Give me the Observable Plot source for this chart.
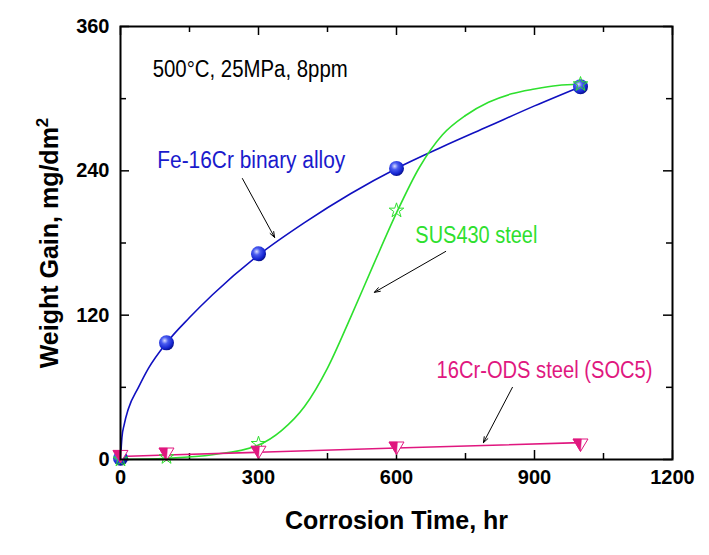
<!DOCTYPE html>
<html><head><meta charset="utf-8">
<script src="https://cdn.jsdelivr.net/npm/d3@7"></script>
<script src="https://cdn.jsdelivr.net/npm/@observablehq/plot@0.6"></script>
<style>body{margin:0;background:#fff}</style>
</head><body><div id="chart"></div>
<script>
// ---- data ----
const feCurveT = [0, 3, 8, 17, 39, 61, 100, 150, 200, 300, 400, 500, 600, 700, 800, 900, 1000];
const feCurveV = [0, 18, 29, 42, 60, 76, 97, 118, 137, 170, 197, 221, 242, 260, 277, 294, 310];
const fePointT = [0, 100, 300, 600, 1000];
const fePointV = [1, 97, 171, 242, 310];

const susCurveT = [0, 100, 200, 300, 350, 400, 450, 500, 550, 600, 650, 700, 750, 800, 850, 900, 950, 1000];
const susCurveV = [0, 1, 4, 12, 24, 44, 76, 118, 162, 205, 243, 270, 286, 297, 304, 308, 311, 312];
const susPointT = [0, 100, 300, 600, 1000];
const susPointV = [0, 2, 13, 207, 312];

const odsCurveT = [0, 100, 300, 600, 1000];
const odsCurveV = [2.5, 3.7, 6, 9.6, 14];
const odsPointT = [0, 100, 300, 600, 1000];
const odsPointV = [3, 5, 6.5, 10, 12.5];

const xMajor = [0, 300, 600, 900, 1200];
const xMinor = [150, 450, 750, 1050];
const yMajor = [0, 120, 240, 360];
const yMinor = [60, 180, 300];

const labelText = ["500°C, 25MPa, 8ppm", "Fe-16Cr binary alloy", "SUS430 steel", "16Cr-ODS steel (SOC5)"];
const labelT = [70, 80, 641, 687];
const labelV = [317.6, 242, 179.6, 68];

const arrowT1 = [265, 707, 852];
const arrowV1 = [233.6, 173, 60];
const arrowT2 = [335, 552, 789];
const arrowV2 = [184.6, 139, 14];

const xLabel = "Corrosion Time, hr";
const yLabelMain = "Weight Gain, mg/dm";
const yLabelSup = "2";

// ---- styles ----
const labelColor = ["#000000", "#1a1acc", "#2ee02e", "#e0177f"];
const labelWidth = [195, 188, 122, 216];

// ---- build ----
const zip = (T, V) => T.map((t, i) => ({t, v: V[i]}));
const fe = zip(feCurveT, feCurveV), feP = zip(fePointT, fePointV);
const sus = zip(susCurveT, susCurveV), susP = zip(susPointT, susPointV);
const ods = zip(odsCurveT, odsCurveV), odsP = zip(odsPointT, odsPointV);
const labels = labelText.map((text, i) => ({text, t: labelT[i], v: labelV[i], color: labelColor[i]}));
const arrows = arrowT1.map((t1, i) => ({t1, v1: arrowV1[i], t2: arrowT2[i], v2: arrowV2[i]}));

const W = 709, H = 555, mL = 120, mR = 37, mT = 26, mB = 96;
const iw = W - mL - mR, ih = H - mT - mB;

const triDown = {draw(ctx, size) {
  const r = Math.sqrt(size / Math.PI), hw = 1.07 * r, top = -0.78 * r, ap = 1.0 * r;
  ctx.moveTo(-hw, top); ctx.lineTo(hw, top); ctx.lineTo(0, ap); ctx.closePath();
}};
const triHalf = {draw(ctx, size) {
  const r = Math.sqrt(size / Math.PI), hw = 1.07 * r, top = -0.78 * r, ap = 1.0 * r;
  ctx.moveTo(-hw, top); ctx.lineTo(0.12 * hw, top); ctx.lineTo(0, ap); ctx.closePath();
}};

const blue = "#1010c0", green = "#2ee02e", pink = "#e0177f";

const plot = Plot.plot({
  width: W, height: H,
  marginLeft: mL, marginRight: mR, marginTop: mT, marginBottom: mB,
  style: {fontFamily: "'Liberation Sans', Arial, sans-serif", background: "#fff"},
  x: {domain: [0, 1200]},
  y: {domain: [0, 360]},
  marks: [
    Plot.axisX(xMajor, {tickSize: 0, tickPadding: 10, fontSize: 20, fontWeight: "bold", label: null, fill: "#000", tickFormat: d => String(d)}),
    Plot.axisY(yMajor, {tickSize: 0, tickPadding: 11, fontSize: 20, fontWeight: "bold", label: null, fill: "#000", tickFormat: d => String(d)}),
    Plot.tickX(xMajor, {x: d => d, insetTop: ih - 9, stroke: "#000", strokeWidth: 1.5}),
    Plot.tickX(xMinor, {x: d => d, insetTop: ih - 6, stroke: "#000", strokeWidth: 1.5}),
    Plot.tickX(xMajor, {x: d => d, insetBottom: ih - 9, stroke: "#000", strokeWidth: 1.5}),
    Plot.tickX(xMinor, {x: d => d, insetBottom: ih - 6, stroke: "#000", strokeWidth: 1.5}),
    Plot.tickY(yMajor, {y: d => d, insetRight: iw - 9, stroke: "#000", strokeWidth: 1.5}),
    Plot.tickY(yMinor, {y: d => d, insetRight: iw - 6, stroke: "#000", strokeWidth: 1.5}),
    Plot.tickY(yMajor, {y: d => d, insetLeft: iw - 9, stroke: "#000", strokeWidth: 1.5}),
    Plot.tickY(yMinor, {y: d => d, insetLeft: iw - 6, stroke: "#000", strokeWidth: 1.5}),
    Plot.line(fe, {x: "t", y: "v", stroke: blue, strokeWidth: 1.6, curve: "monotone-x"}),
    Plot.line(sus, {x: "t", y: "v", stroke: green, strokeWidth: 1.6, curve: "monotone-x"}),
    Plot.line(ods, {x: "t", y: "v", stroke: pink, strokeWidth: 1.6}),
    Plot.dot(feP, {x: "t", y: "v", r: 7.5, fill: "url(#sphere)", stroke: "none"}),
    Plot.dot(susP, {x: "t", y: "v", r: 4.6, symbol: "star", fill: "none", stroke: green, strokeWidth: 1}),
    Plot.dot(odsP, {x: "t", y: "v", r: 7, symbol: triDown, fill: "#fff", stroke: pink, strokeWidth: 1}),
    Plot.dot(odsP, {x: "t", y: "v", r: 7, symbol: triHalf, fill: pink, stroke: pink, strokeWidth: 0.5}),
    Plot.arrow(arrows, {x1: "t1", y1: "v1", x2: "t2", y2: "v2", stroke: "#000", strokeWidth: 1, headLength: 9, headAngle: 40}),
    Plot.text(labels, {x: "t", y: "v", text: "text", fill: "color", textAnchor: "start", lineAnchor: "bottom", fontSize: 23, className: "anno"}),
    Plot.text([xLabel], {frameAnchor: "bottom", textAnchor: "middle", dy: 69, lineAnchor: "bottom", fontSize: 25, fontWeight: "bold", fill: "#000"}),
    Plot.text([yLabelMain], {frameAnchor: "left", textAnchor: "middle", dx: -63, rotate: -90, lineAnchor: "bottom", fontSize: 25, fontWeight: "bold", fill: "#000", className: "ylab"}),
    Plot.frame({stroke: "#000", strokeWidth: 2})
  ]
});

d3.select(plot).insert("defs", ":first-child").html(`
  <radialGradient id="sphere" cx="0.38" cy="0.35" r="0.65">
    <stop offset="0" stop-color="#d8dcff"/>
    <stop offset="0.35" stop-color="#4a5cf0"/>
    <stop offset="0.8" stop-color="#1424d0"/>
    <stop offset="1" stop-color="#0a1390"/>
  </radialGradient>`);

d3.select(plot).selectAll("g.anno text").each(function(d, i) {
  this.setAttribute("textLength", labelWidth[i]);
  this.setAttribute("lengthAdjust", "spacingAndGlyphs");
});

d3.select(plot).selectAll("g.ylab text").each(function() {
  d3.select(this).append("tspan").attr("dy", "-0.55em").attr("font-size", "17").text(yLabelSup);
});

document.getElementById("chart").append(plot);
</script>
</body></html>
